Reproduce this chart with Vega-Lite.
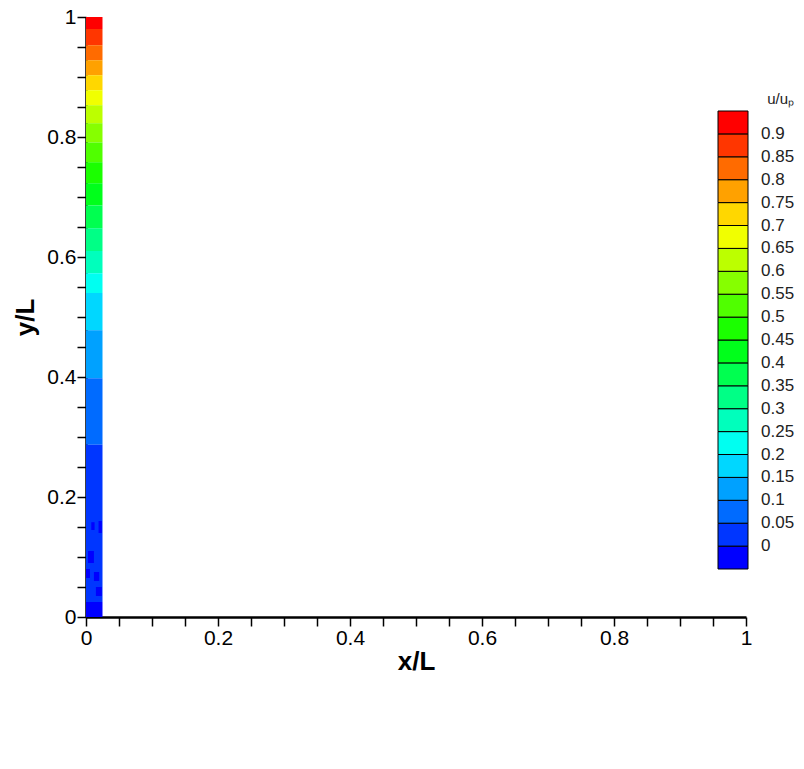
{
  "$schema": "https://vega.github.io/schema/vega-lite/v6.json",
  "width": 660,
  "height": 600,
  "autosize": {"type": "none"},
  "padding": {"left": 86, "top": 17, "right": 58, "bottom": 152},
  "background": "white",
  "config": {"view": {"stroke": null}, "font": "Liberation Sans"},
  "data": {
    "values": [
      {"x0": 0, "x1": 0.025, "y0": 0.98, "y1": 1.0, "u": 0.925},
      {"x0": 0, "x1": 0.025, "y0": 0.953, "y1": 0.98, "u": 0.875},
      {"x0": 0, "x1": 0.025, "y0": 0.928, "y1": 0.953, "u": 0.825},
      {"x0": 0, "x1": 0.025, "y0": 0.903, "y1": 0.928, "u": 0.775},
      {"x0": 0, "x1": 0.025, "y0": 0.878, "y1": 0.903, "u": 0.725},
      {"x0": 0, "x1": 0.025, "y0": 0.853, "y1": 0.878, "u": 0.675},
      {"x0": 0, "x1": 0.025, "y0": 0.823, "y1": 0.853, "u": 0.625},
      {"x0": 0, "x1": 0.025, "y0": 0.791, "y1": 0.823, "u": 0.575},
      {"x0": 0, "x1": 0.025, "y0": 0.758, "y1": 0.791, "u": 0.525},
      {"x0": 0, "x1": 0.025, "y0": 0.723, "y1": 0.758, "u": 0.475},
      {"x0": 0, "x1": 0.025, "y0": 0.686, "y1": 0.723, "u": 0.425},
      {"x0": 0, "x1": 0.025, "y0": 0.648, "y1": 0.686, "u": 0.375},
      {"x0": 0, "x1": 0.025, "y0": 0.61, "y1": 0.648, "u": 0.325},
      {"x0": 0, "x1": 0.025, "y0": 0.573, "y1": 0.61, "u": 0.275},
      {"x0": 0, "x1": 0.025, "y0": 0.54, "y1": 0.573, "u": 0.225},
      {"x0": 0, "x1": 0.025, "y0": 0.478, "y1": 0.54, "u": 0.175},
      {"x0": 0, "x1": 0.025, "y0": 0.398, "y1": 0.478, "u": 0.125},
      {"x0": 0, "x1": 0.025, "y0": 0.287, "y1": 0.398, "u": 0.075},
      {"x0": 0, "x1": 0.025, "y0": 0.025, "y1": 0.287, "u": 0.025},
      {"x0": 0, "x1": 0.025, "y0": 0.0, "y1": 0.025, "u": -0.01},
      {"x0": 0.008, "x1": 0.013, "y0": 0.145, "y1": 0.158, "u": -0.01},
      {"x0": 0.019, "x1": 0.024, "y0": 0.14, "y1": 0.16, "u": -0.01},
      {"x0": 0.003, "x1": 0.012, "y0": 0.09, "y1": 0.11, "u": -0.01},
      {"x0": 0.012, "x1": 0.02, "y0": 0.06, "y1": 0.075, "u": -0.01},
      {"x0": 0.0, "x1": 0.006, "y0": 0.065, "y1": 0.08, "u": -0.01},
      {"x0": 0.015, "x1": 0.024, "y0": 0.035, "y1": 0.05, "u": -0.01}
    ]
  },
  "mark": {"type": "rect", "strokeWidth": 0},
  "encoding": {
    "x": {
      "field": "x0", "type": "quantitative", "title": "x/L",
      "scale": {"domain": [0, 1], "nice": false, "zero": false},
      "axis": {
        "values": [0, 0.05, 0.1, 0.15, 0.2, 0.25, 0.3, 0.35, 0.4, 0.45, 0.5, 0.55, 0.6, 0.65, 0.7, 0.75, 0.8, 0.85, 0.9, 0.95, 1],
        "labelExpr": "abs(datum.value*5 - round(datum.value*5)) < 0.000001 ? format(datum.value, '~g') : ''",
        "grid": false, "domainColor": "black", "domainWidth": 2.5,
        "tickColor": "black", "tickWidth": 1.5, "tickSize": 9,
        "labelFontSize": 21, "labelColor": "black", "labelPadding": 1,
        "labelFlush": false, "labelOverlap": false,
        "titleFontSize": 26, "titleFontWeight": "bold", "titleColor": "black", "titlePadding": 0
      }
    },
    "x2": {"field": "x1"},
    "y": {
      "field": "y0", "type": "quantitative", "title": "y/L",
      "scale": {"domain": [0, 1], "nice": false, "zero": false},
      "axis": {
        "values": [0, 0.05, 0.1, 0.15, 0.2, 0.25, 0.3, 0.35, 0.4, 0.45, 0.5, 0.55, 0.6, 0.65, 0.7, 0.75, 0.8, 0.85, 0.9, 0.95, 1],
        "labelExpr": "abs(datum.value*5 - round(datum.value*5)) < 0.000001 ? format(datum.value, '~g') : ''",
        "grid": false, "domainColor": "black", "domainWidth": 2.5,
        "tickColor": "black", "tickWidth": 1.5, "tickSize": 9,
        "labelFontSize": 21, "labelColor": "black", "labelPadding": 1,
        "labelFlush": false, "labelOverlap": false,
        "titleFontSize": 26, "titleFontWeight": "bold", "titleColor": "black", "titlePadding": 8
      }
    },
    "y2": {"field": "y1"},
    "color": {
      "field": "u", "type": "quantitative",
      "scale": {
        "type": "threshold",
        "domain": [0, 0.05, 0.1, 0.15, 0.2, 0.25, 0.3, 0.35, 0.4, 0.45, 0.5, 0.55, 0.6, 0.65, 0.7, 0.75, 0.8, 0.85, 0.9],
        "range": ["#0000FF", "#0036FF", "#006BFF", "#00A1FF", "#00D7FF", "#00FFF1", "#00FFBC", "#00FF86", "#00FF50", "#00FF1B", "#1BFF00", "#50FF00", "#86FF00", "#BCFF00", "#F1FF00", "#FFD700", "#FFA100", "#FF6B00", "#FF3600", "#FF0000"]
      },
      "legend": {
        "type": "gradient", "title": "u/uₚ", "orient": "none",
        "legendX": 632, "legendY": 75, "direction": "vertical",
        "gradientLength": 458, "gradientThickness": 30,
        "gradientStrokeColor": "black", "gradientStrokeWidth": 1,
        "labelFontSize": 17, "labelColor": "#222222", "labelOffset": 13,
        "labelOverlap": false,
        "labelExpr": "isFinite(datum.value) ? format(datum.value, '~g') : ''",
        "titleFontSize": 15, "titleFontWeight": "normal", "titleColor": "#222222",
        "titleAnchor": "end", "titlePadding": 4
      }
    }
  }
}
